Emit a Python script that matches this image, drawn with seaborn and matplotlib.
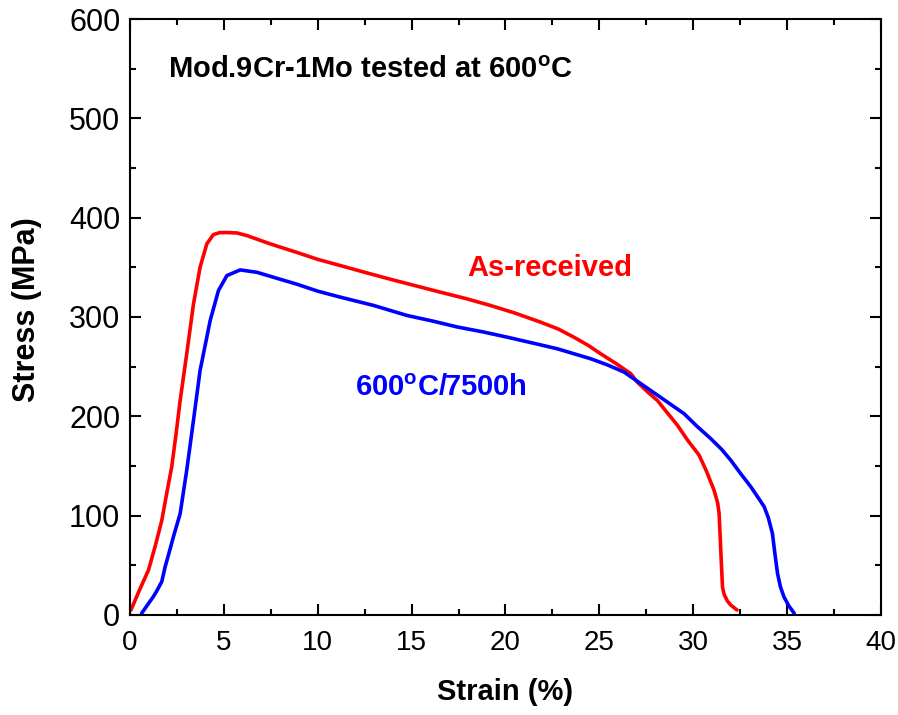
import numpy as np
import pandas as pd
import seaborn as sns
import matplotlib.pyplot as plt

# data
strain_asrec = [0.05, 0.5, 0.98, 1.35, 1.69, 1.95, 2.22, 2.45, 2.67, 3.02, 3.38, 3.73, 4.09,
                4.44, 4.8, 5.2, 5.69, 6.22, 7.47, 8.89, 10.0, 11.2, 12.5, 13.87, 15.2,
                16.53, 17.9, 19.2, 20.5, 21.87, 22.8, 23.64, 24.4, 25.07, 25.9, 26.67,
                27.02, 27.6, 28.09, 28.6, 29.16, 29.7, 30.31, 30.7, 31.11, 31.3, 31.38,
                31.45, 31.5, 31.56, 31.64, 31.82, 32.0, 32.33]
stress_asrec = [5, 25, 45, 70, 95, 122, 149, 182, 216, 263, 313, 350, 373.6,
                383, 385, 385, 384.6, 382, 373.6, 365, 358, 351.8, 345, 338, 331.5,
                325, 318.5, 311.6, 304, 294.8, 288, 279.7, 271.5, 263, 253, 243,
                234.5, 224, 216, 204, 191, 176, 161, 145, 125.6, 113, 102,
                73, 52, 28, 21, 14, 10, 5]

strain_aged = [0.62, 1.0, 1.24, 1.45, 1.69, 1.87, 2.1, 2.31, 2.67, 3.02, 3.38, 3.73, 4.27,
               4.71, 5.16, 5.87, 6.76, 7.64, 8.89, 10.0, 11.2, 12.98, 14.76, 16.1, 17.42,
               18.8, 20.09, 21.4, 22.76, 24.53, 25.4, 26.31, 27.2, 28.27, 29.51, 30.2,
               30.93, 31.5, 32.0, 32.5, 33.07, 33.5, 33.78, 34.0, 34.22, 34.35, 34.49,
               34.65, 34.84, 35.1, 35.38]
stress_aged = [1.7, 12, 18.4, 25, 33.5, 48.5, 64, 78.7, 102, 145.7, 196, 246, 296.5,
               326.6, 341.7, 347.4, 345, 340, 333, 326, 320, 311.6, 301.5, 296, 290,
               285, 279.7, 274, 268, 258, 252, 244.6, 233, 219, 202.7, 190,
               177.6, 167, 155.8, 143, 129, 117, 109, 98, 82, 62, 42,
               28, 18, 9, 1.7]

x_ticks = [0, 5, 10, 15, 20, 25, 30, 35, 40]
y_ticks = [0, 100, 200, 300, 400, 500, 600]

sns.set_style("ticks")
plt.rcParams['font.family'] = ['Liberation Sans', 'DejaVu Sans']
plt.rcParams['mathtext.fontset'] = 'custom'
plt.rcParams['mathtext.rm'] = 'Liberation Sans'
plt.rcParams['mathtext.bf'] = 'Liberation Sans:bold'
for key in ['text.color', 'axes.labelcolor', 'xtick.color', 'ytick.color', 'axes.edgecolor']:
    plt.rcParams[key] = 'black'

df_a = pd.DataFrame({'Strain': strain_asrec, 'Stress': stress_asrec})
df_b = pd.DataFrame({'Strain': strain_aged, 'Stress': stress_aged})

fig = plt.figure(figsize=(8.98, 7.15), dpi=100)
ax = fig.add_axes([0.1448, 0.1399, 0.8362, 0.8335])

sns.lineplot(data=df_a, x='Strain', y='Stress', sort=False, estimator=None,
             color='#FF0000', linewidth=2.6, ax=ax)
sns.lineplot(data=df_b, x='Strain', y='Stress', sort=False, estimator=None,
             color='#0000FF', linewidth=2.6, ax=ax)

ax.set_xlim(0, 40)
ax.set_ylim(0, 600)
ax.set_xticks(x_ticks)
ax.set_yticks(y_ticks)
ax.set_xticks(np.arange(2.5, 40, 5), minor=True)
ax.set_yticks(np.arange(50, 600, 100), minor=True)
ax.tick_params(which='both', direction='in', top=True, right=True, width=1.5)
ax.tick_params(which='major', length=8)
ax.tick_params(which='minor', length=4)
ax.tick_params(axis='x', which='major', labelsize=20, pad=11)
ax.tick_params(axis='y', which='major', labelsize=22, pad=7)
for s in ax.spines.values():
    s.set_linewidth(1.5)

ax.set_xlabel('Strain (%)', fontsize=21, fontweight='bold', labelpad=16)
ax.set_ylabel('Stress (MPa)', fontsize=22, fontweight='bold')
ax.yaxis.set_label_coords(-0.117, 0.513)

ax.text(2.03, 549, r'Mod.9Cr-1Mo tested at 600$^\mathbf{o}$C', fontsize=21,
        fontweight='bold', va='center', ha='left')
ax.text(17.97, 349, 'As-received', fontsize=21, fontweight='bold',
        color='#FF0000', va='center', ha='left')
ax.text(12.0, 229, r'600$^\mathbf{o}$C/7500h', fontsize=21, fontweight='bold',
        color='#0000FF', va='center', ha='left')

fig.savefig('out.png', dpi=100)
